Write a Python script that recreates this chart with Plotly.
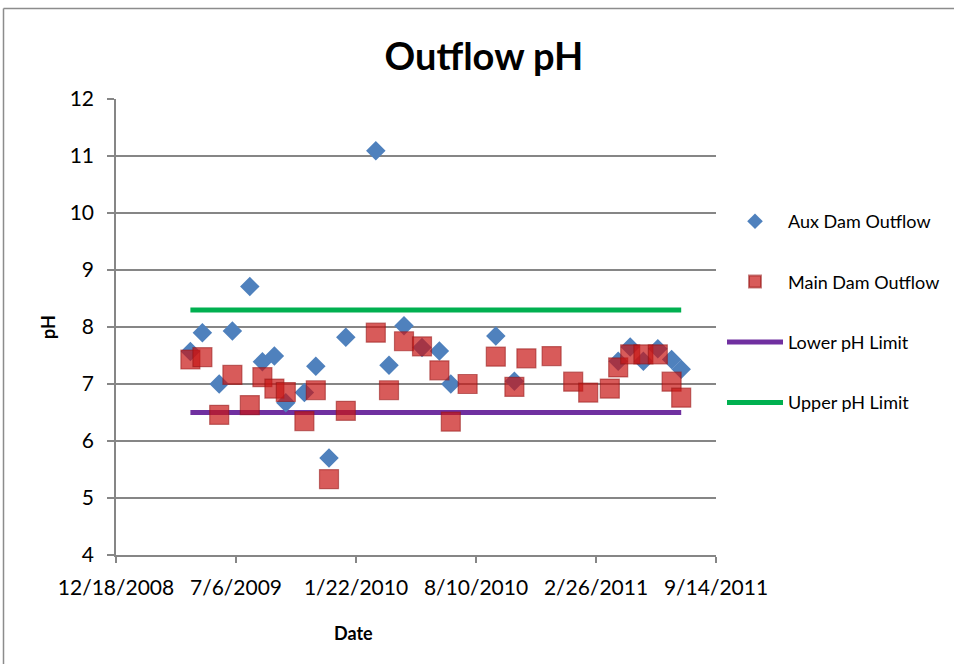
import plotly.graph_objects as go

# Aux Dam Outflow (blue diamonds)
aux_dates = ["2009-04-21", "2009-05-11", "2009-06-08", "2009-06-30", "2009-07-29",
             "2009-08-19", "2009-09-08", "2009-09-27", "2009-10-28", "2009-11-16",
             "2009-12-08", "2010-01-05", "2010-02-24", "2010-03-18", "2010-04-12",
             "2010-05-12", "2010-06-10", "2010-06-29", "2010-09-12", "2010-10-13",
             "2011-04-04", "2011-04-24", "2011-05-16", "2011-06-09", "2011-07-02",
             "2011-07-18"]
aux_ph = [7.57, 7.90, 7.00, 7.93, 8.71,
          7.39, 7.49, 6.67, 6.85, 7.31,
          5.70, 7.82, 11.09, 7.33, 8.02,
          7.64, 7.58, 7.00, 7.84, 7.05,
          7.40, 7.65, 7.40, 7.62, 7.43,
          7.26]

# Main Dam Outflow (red squares)
main_dates = ["2009-04-21", "2009-05-11", "2009-06-08", "2009-06-30", "2009-07-29",
              "2009-08-19", "2009-09-08", "2009-09-27", "2009-10-28", "2009-11-16",
              "2009-12-08", "2010-01-05", "2010-02-24", "2010-03-18", "2010-04-12",
              "2010-05-12", "2010-06-10", "2010-06-29", "2010-07-27", "2010-09-12",
              "2010-10-13", "2010-11-02", "2010-12-14", "2011-01-19", "2011-02-13",
              "2011-03-21", "2011-04-04", "2011-04-24", "2011-05-16", "2011-06-09",
              "2011-07-02", "2011-07-18"]
main_ph = [7.43, 7.47, 6.46, 7.16, 6.63,
           7.12, 6.92, 6.86, 6.35, 6.89,
           5.33, 6.53, 7.90, 6.89, 7.75,
           7.66, 7.24, 6.34, 7.00, 7.48,
           6.95, 7.45, 7.49, 7.04, 6.85,
           6.92, 7.29, 7.52, 7.52, 7.52,
           7.04, 6.76]

limit_dates = ["2009-04-21", "2011-07-18"]
lower_limit = [6.5, 6.5]
upper_limit = [8.3, 8.3]

x_tick_vals = ["2008-12-18", "2009-07-06", "2010-01-22", "2010-08-10", "2011-02-26", "2011-09-14"]
x_tick_text = ["12/18/2008", "7/6/2009", "1/22/2010", "8/10/2010", "2/26/2011", "9/14/2011"]
y_ticks = [4, 5, 6, 7, 8, 9, 10, 11, 12]

FONT = "Lato"

fig = go.Figure()
fig.add_trace(go.Scatter(x=limit_dates, y=lower_limit, mode="lines", name="Lower pH Limit",
                         line=dict(color="#7030A0", width=5), legendgroup="c", legendrank=3))
fig.add_trace(go.Scatter(x=limit_dates, y=upper_limit, mode="lines", name="Upper pH Limit",
                         line=dict(color="#00B050", width=5), legendgroup="d", legendrank=4))
fig.add_trace(go.Scatter(x=aux_dates, y=aux_ph, mode="markers", name="Aux Dam Outflow",
                         marker=dict(symbol="diamond", size=15, color="#4F81BD",
                                     line=dict(width=0)),
                         legendgroup="a", legendrank=1))
fig.add_trace(go.Scatter(x=main_dates, y=main_ph, mode="markers", name="Main Dam Outflow",
                         marker=dict(symbol="square", size=19, color="rgba(200,22,20,0.70)",
                                     line=dict(width=1.2, color="rgba(150,20,20,0.55)")),
                         legendgroup="b", legendrank=2))

W, H = 954, 664
PL, PR, PT, PB = 116, 716, 99, 555          # plot area in screen pixels
L, T = PL, PT
R, B = W - PR, H - PB
pw, ph = PR - PL, PB - PT


def px(xs):
    return (xs - PL) / pw


def py(ys):
    return (PB - ys) / ph


BORDER = dict(color="#8C8C8C", width=1.5)

fig.update_layout(
    width=W, height=H,
    margin=dict(l=L, r=R, t=T, b=B, pad=0, autoexpand=False),
    paper_bgcolor="white", plot_bgcolor="white",
    font=dict(family=FONT, color="black"),
    title=dict(text="<b>Outflow pH</b>", x=484 / W, xref="container", xanchor="center",
               y=1 - 57 / H, yref="container", yanchor="middle",
               font=dict(size=38, family=FONT, color="black")),
    showlegend=True,
    legend=dict(x=px(722), xanchor="left", y=py(203), yanchor="top",
                font=dict(size=18, family=FONT, color="black"),
                tracegroupgap=34, itemsizing="constant", itemwidth=56,
                bgcolor="rgba(0,0,0,0)", traceorder="grouped"),
    xaxis=dict(type="date", range=["2008-12-18", "2011-09-14"],
               tickvals=x_tick_vals, ticktext=x_tick_text,
               showgrid=False, zeroline=False,
               showline=True, linecolor="#868686", linewidth=1.5,
               ticks="outside", ticklen=6, tickcolor="#868686", tickwidth=1.5,
               tickfont=dict(size=21, family=FONT, color="black"),
               ticklabelstandoff=7),
    yaxis=dict(range=[4, 12], tickvals=y_ticks,
               showgrid=True, gridcolor="#868686", gridwidth=1.5,
               zeroline=False,
               showline=True, linecolor="#868686", linewidth=1.5,
               ticks="outside", ticklen=7, tickcolor="#868686", tickwidth=1.5,
               tickfont=dict(size=21, family=FONT, color="black"),
               ticklabelstandoff=9),
    annotations=[
        dict(text="<b>Date</b>", xref="paper", yref="paper",
             x=px(353), y=py(633), xanchor="center", yanchor="middle",
             showarrow=False, font=dict(size=18, family=FONT, color="black")),
        dict(text="<b>pH</b>", xref="paper", yref="paper",
             x=px(48), y=py(327), xanchor="center", yanchor="middle",
             textangle=-90, showarrow=False, font=dict(size=18, family=FONT, color="black")),
    ],
    shapes=[
        dict(type="line", xref="paper", yref="paper",
             x0=px(3.5), x1=px(954), y0=py(8.5), y1=py(8.5), line=BORDER, layer="below"),
        dict(type="line", xref="paper", yref="paper",
             x0=px(3.5), x1=px(3.5), y0=py(8.5), y1=py(664), line=BORDER, layer="below"),
    ],
)

fig.write_html(
    "out.html",
    config={"displayModeBar": False},
    post_script="document.body.style.margin='0';document.body.style.overflow='hidden';",
)
